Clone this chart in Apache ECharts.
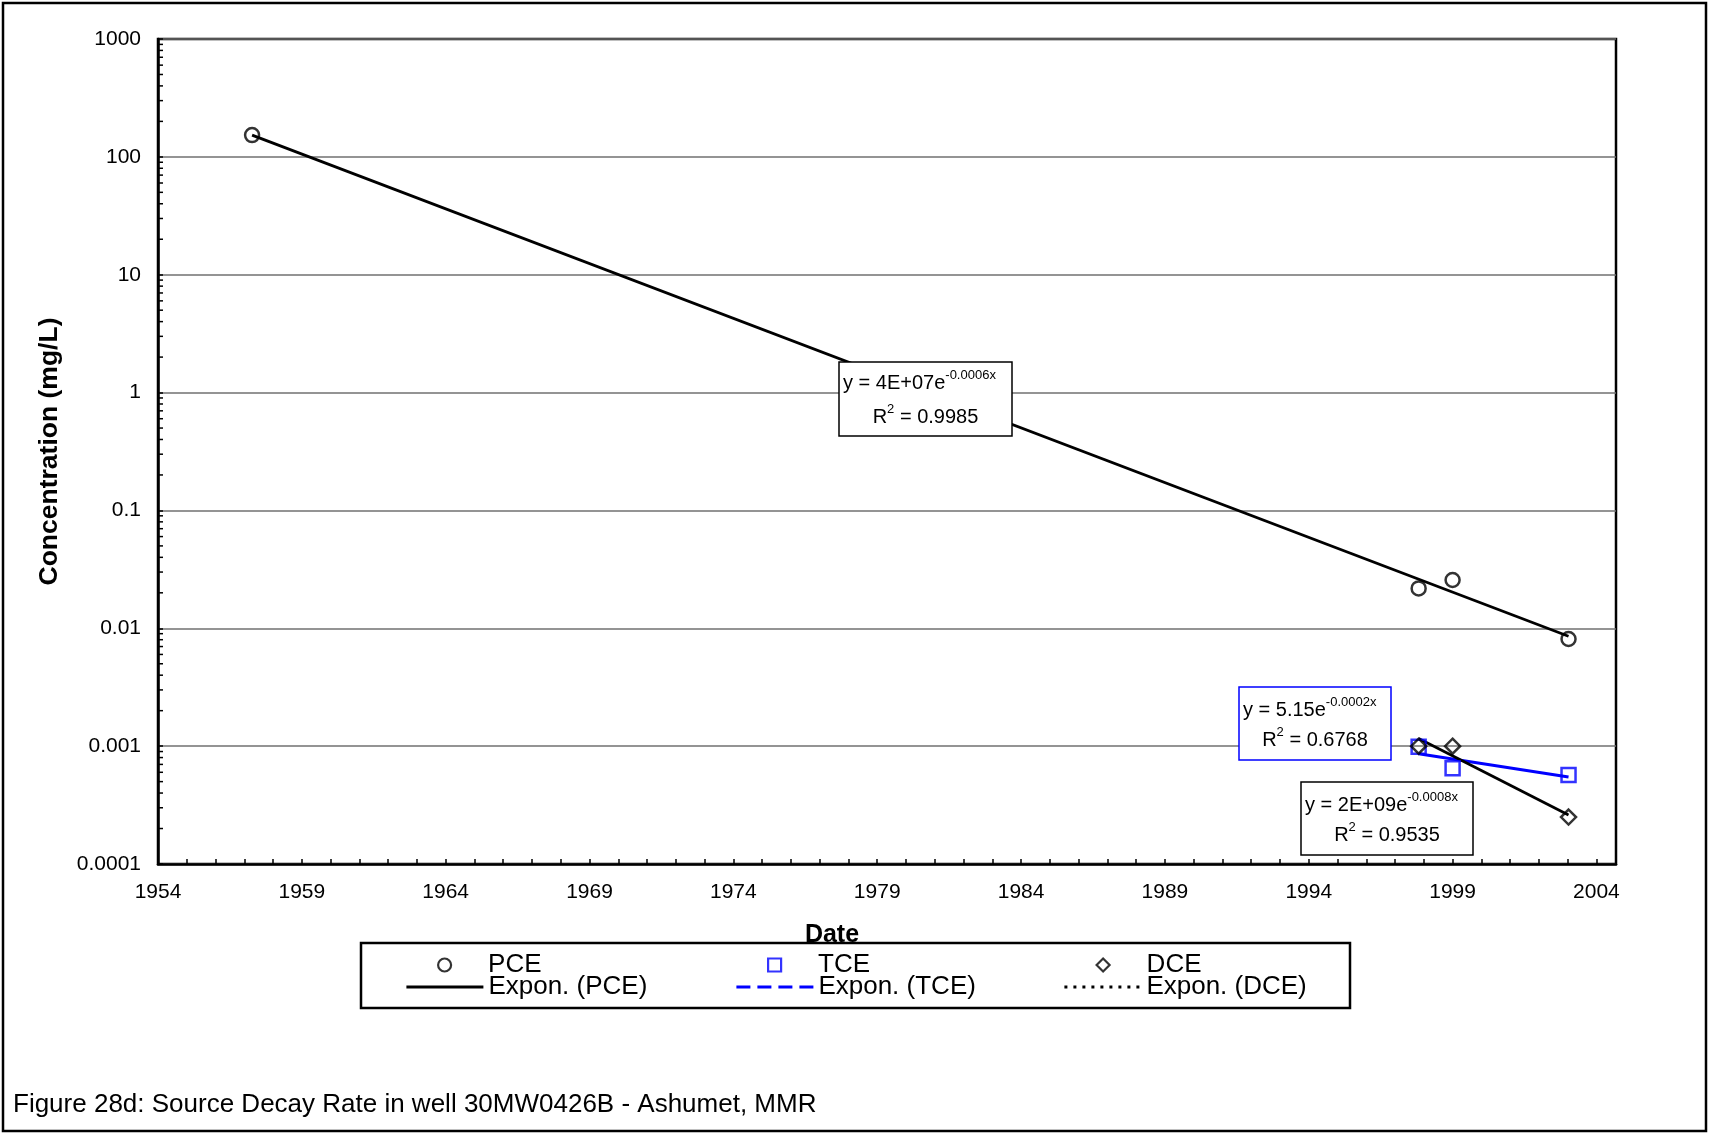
<!DOCTYPE html>
<html><head><meta charset="utf-8">
<script src="https://cdn.jsdelivr.net/npm/echarts@6/dist/echarts.min.js"></script>
<style>html,body{margin:0;padding:0;background:#fff}#c{width:1709px;height:1135px}</style>
</head><body><div id="c"></div>
<script>
// ---- data ----
const BASE_YEAR = 1954;
const END_YEAR = 2004.68;
const xTickLabels = ['1954','1959','1964','1969','1974','1979','1984','1989','1994','1999','2004'];
const yTickLabels = ['0.0001','0.001','0.01','0.1','1','10','100','1000'];
const pceDates = [1957.27, 1997.82, 1999.00, 2003.03];
const pceValues = [153, 0.0218, 0.0257, 0.00811];
const tceDates = [1997.82, 1999.00, 2003.03];
const tceValues = [0.00099, 0.00065, 0.00057];
const dceDates = [1997.82, 1999.00, 2003.03];
const dceValues = [0.00100, 0.00100, 0.00025];
const pceFitText = ['y = 4E+07e', '-0.0006x', '0.9985'];
const tceFitText = ['y = 5.15e', '-0.0002x', '0.6768'];
const dceFitText = ['y = 2E+09e', '-0.0008x', '0.9535'];

const FONT = '"Liberation Sans", Arial, sans-serif';

function pts(dates, vals){ return dates.map((d,i)=>[d-BASE_YEAR, vals[i]]); }
// exponential least-squares trendline (fit of ln y on x), drawn over the data range
function expTrend(dates, vals){
  const n = dates.length;
  const ly = vals.map(v=>Math.log(v));
  const mx = dates.reduce((a,b)=>a+b,0)/n, my = ly.reduce((a,b)=>a+b,0)/n;
  let sxy=0, sxx=0;
  for(let i=0;i<n;i++){ sxy += (dates[i]-mx)*(ly[i]-my); sxx += (dates[i]-mx)*(dates[i]-mx); }
  const b = sxy/sxx, a = my - b*mx;
  const x0 = Math.min(...dates), x1 = Math.max(...dates);
  return [[x0-BASE_YEAR, Math.exp(a+b*x0)], [x1-BASE_YEAR, Math.exp(a+b*x1)]];
}
// minor log ticks 2..9 in each decade
const minorY = [];
for(let e=-4;e<3;e++){ for(let m=2;m<10;m++){ minorY.push([0, m*Math.pow(10,e)]); } }

const chart = echarts.init(document.getElementById('c'), null, {renderer:'canvas'});

const LEG_TEXT = {fontSize:26, color:'#000', fontFamily:FONT, lineHeight:26};
function markerLegend(name, center, top, color){
  return {
    data:[name], left:center-6.5, top:top, orient:'horizontal', padding:0,
    itemWidth:13, itemHeight:13, itemGap:0,
    itemStyle:{color:'rgba(255,255,255,0)', borderColor:color, borderWidth:2.2},
    textStyle:Object.assign({padding:[0,0,0,32]}, LEG_TEXT)
  };
}
function lineLegend(name, left, top, type){
  return {
    data:[name], left:left, top:top, orient:'horizontal', padding:0,
    itemWidth:77, itemHeight:13, itemGap:0,
    itemStyle:{opacity:0},
    lineStyle:{type:type, width:2.8},
    textStyle:Object.assign({}, LEG_TEXT)
  };
}

function annot(box, border, l1x, l1y, l2x, l2y, txt){
  const rich = {
    m:{fontSize:20, fontFamily:FONT, color:'#000', lineHeight:28},
    s:{fontSize:13, fontFamily:FONT, color:'#000', lineHeight:28, verticalAlign:'top'}
  };
  return [
    {type:'rect', z:100, shape:{x:box[0], y:box[1], width:box[2], height:box[3]},
     style:{fill:'#fff', stroke:border, lineWidth:1.5}},
    {type:'text', z:101, x:l1x, y:l1y,
     style:{text:'{m|'+txt[0]+'}{s|'+txt[1]+'}', rich:rich, align:'left', verticalAlign:'middle'}},
    {type:'text', z:101, x:l2x, y:l2y,
     style:{text:'{m|R}{s|2}{m| = '+txt[2]+'}', rich:rich, align:'center', verticalAlign:'middle'}}
  ];
}

const option = {
  backgroundColor:'#fff',
  animation:false,
  grid:{left:158, top:39, width:1458, height:825, show:true, borderColor:'#000', borderWidth:2.5, backgroundColor:'transparent'},
  xAxis:{
    type:'value', min:0, max:END_YEAR-BASE_YEAR, interval:5,
    axisLine:{show:true, onZero:false, lineStyle:{color:'#000', width:2.5}},
    axisTick:{show:true, inside:true, length:5, lineStyle:{color:'#000', width:1.5}},
    minorTick:{show:true, splitNumber:5, length:5, lineStyle:{color:'#000', width:1.5}},
    axisLabel:{fontSize:21, color:'#000', fontFamily:FONT, margin:18,
      formatter:function(v){ const k=v/5; return Math.abs(k-Math.round(k))<1e-6 ? (xTickLabels[Math.round(k)]||'') : ''; }},
    splitLine:{show:false}
  },
  yAxis:{
    type:'log', logBase:10, min:0.0001, max:1000, splitNumber:7,
    axisLine:{show:true, lineStyle:{color:'#000', width:2.5}},
    axisTick:{show:true, inside:true, length:5, lineStyle:{color:'#000', width:1.5}},
    axisLabel:{fontSize:21, color:'#000', fontFamily:FONT, margin:17,
      formatter:function(v){ const i=Math.round(Math.log10(v))+4; return yTickLabels[i]||''; }},
    splitLine:{show:true, lineStyle:{color:'#707070', width:1.5}},
    name:'Concentration (mg/L)', nameLocation:'middle', nameGap:95, nameRotate:90,
    nameTextStyle:{fontSize:26.5, fontWeight:'bold', color:'#000', fontFamily:FONT}
  },
  legend:[
    markerLegend('PCE', 443.5, 952, '#000'),
    markerLegend('TCE', 773.5, 952, '#0000ff'),
    markerLegend('DCE', 1102, 952, '#000'),
    lineLegend('Expon. (PCE)', 405, 974, 'solid'),
    lineLegend('Expon. (TCE)', 735, 974, [14,7]),
    lineLegend('Expon. (DCE)', 1063, 974, [3,6])
  ],
  series:[
    {name:'Expon. (PCE)', type:'line', data:expTrend(pceDates,pceValues), symbol:'none', color:'#000',
     lineStyle:{color:'#000', width:2.8}, z:2},
    {name:'Expon. (TCE)', type:'line', data:expTrend(tceDates,tceValues), symbol:'none', color:'#0000ff',
     lineStyle:{color:'#0000ff', width:2.8}, z:2},
    {name:'Expon. (DCE)', type:'line', data:expTrend(dceDates,dceValues), symbol:'none', color:'#000',
     lineStyle:{color:'#000', width:2.8}, z:2},
    {name:'PCE', type:'scatter', data:pts(pceDates,pceValues), symbol:'circle', symbolSize:14,
     itemStyle:{color:'rgba(255,255,255,0)', borderColor:'#000', borderWidth:2.5}, z:3},
    {name:'TCE', type:'scatter', data:pts(tceDates,tceValues), symbol:'rect', symbolSize:14,
     itemStyle:{color:'rgba(255,255,255,0)', borderColor:'#0000ff', borderWidth:2.5}, z:3},
    {name:'DCE', type:'scatter', data:pts(dceDates,dceValues), symbol:'diamond', symbolSize:15,
     itemStyle:{color:'rgba(255,255,255,0)', borderColor:'#000', borderWidth:2.5}, z:3},
    {name:'minorY', type:'custom', data:minorY, silent:true, clip:false, z:4,
     renderItem:function(params, api){
       const p = api.coord([0, api.value(1)]);
       return {type:'line', shape:{x1:p[0], y1:p[1], x2:p[0]+5, y2:p[1]}, style:{stroke:'#000', lineWidth:1.5}};
     }}
  ],
  graphic:[
    {type:'rect', z:0, shape:{x:3, y:3, width:1703, height:1128}, style:{fill:'none', stroke:'#000', lineWidth:2.5}},
    {type:'rect', z:0, shape:{x:361, y:943, width:989, height:65}, style:{fill:'none', stroke:'#000', lineWidth:2.5}},
    {type:'text', x:832, y:935, style:{text:'Date', fontSize:25, fontWeight:'bold', fontFamily:FONT, fill:'#000', align:'center', verticalAlign:'middle'}},
    {type:'text', x:13, y:1105, style:{text:'Figure 28d: Source Decay Rate in well 30MW0426B - Ashumet, MMR', fontSize:26, fontFamily:FONT, fill:'#000', align:'left', verticalAlign:'middle'}}
  ].concat(
    annot([839,362,173,74], '#000', 843, 383, 925.5, 417, pceFitText),
    annot([1239,687,152,73], '#0000ff', 1243, 710, 1315, 740, tceFitText),
    annot([1301,782,172,73], '#000', 1305, 805, 1387, 835, dceFitText)
  )
};
chart.setOption(option);
</script>
</body></html>
